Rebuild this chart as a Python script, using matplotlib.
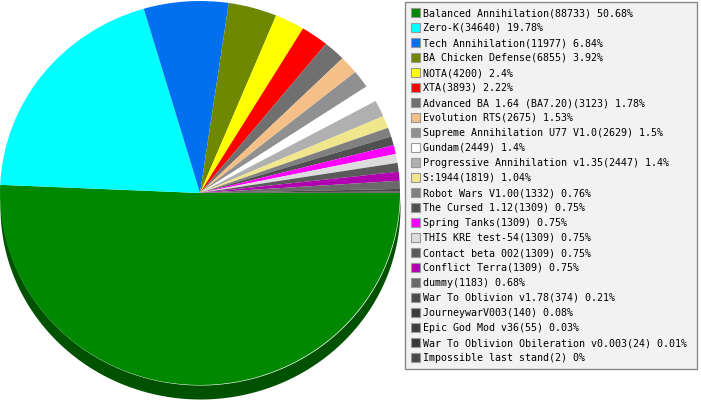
import matplotlib
matplotlib.use("Agg")
import numpy as np
import matplotlib.pyplot as plt
from matplotlib.patches import Patch

names = ["Balanced Annihilation", "Zero-K", "Tech Annihilation", "BA Chicken Defense",
         "NOTA", "XTA", "Advanced BA 1.64 (BA7.20)", "Evolution RTS",
         "Supreme Annihilation U77 V1.0", "Gundam", "Progressive Annihilation v1.35",
         "S:1944", "Robot Wars V1.00", "The Cursed 1.12", "Spring Tanks",
         "THIS KRE test-54", "Contact beta 002", "Conflict Terra", "dummy",
         "War To Oblivion v1.78", "JourneywarV003", "Epic God Mod v36",
         "War To Oblivion Obileration v0.003", "Impossible last stand"]
counts = [88733, 34640, 11977, 6855, 4200, 3893, 3123, 2675, 2629, 2449, 2447,
          1819, 1332, 1309, 1309, 1309, 1309, 1309, 1183, 374, 140, 55, 24, 2]
percents = ["50.68", "19.78", "6.84", "3.92", "2.4", "2.22", "1.78", "1.53", "1.5",
            "1.4", "1.4", "1.04", "0.76", "0.75", "0.75", "0.75", "0.75", "0.75",
            "0.68", "0.21", "0.08", "0.03", "0.01", "0"]
colors = ["#008800", "#00ffff", "#0070f0", "#6e8800", "#ffff00", "#ff0000",
          "#707070", "#f4c088", "#909090", "#ffffff", "#b0b0b0", "#f0e68c",
          "#808080", "#505050", "#ff00ff", "#dcdcdc", "#5a5a5a", "#b000b0",
          "#6a6a6a", "#4a4a4a", "#3c3c3c", "#404040", "#383838", "#484848"]

W, H = 701, 400
CX, CY, RX, RY, DEPTH = 200, 193, 200, 192, 14   # pixel geometry of the 3D pie

fig = plt.figure(figsize=(W / 100, H / 100), dpi=100)
ax = fig.add_axes([0, 0, 1, 1])

# side band of the 3D pie (front half is the first slice)
t = np.linspace(np.pi, 2 * np.pi, 400)
xs = np.cos(t)
d = DEPTH / RY
ax.fill_between(xs, np.sin(t) - d, np.sin(t), color="#005200", linewidth=0, zorder=0)

ax.pie(counts, colors=colors, startangle=0, counterclock=False,
       center=(0, 0), radius=1,
       wedgeprops=dict(linewidth=0, antialiased=True, zorder=1), frame=False)
ax.set_aspect("auto")
ax.set_xlim(-CX / RX, (W - CX) / RX)
ax.set_ylim((CY - H) / RY, CY / RY)
ax.axis("off")

labels = [f"{n}({c}) {p}%" for n, c, p in zip(names, counts, percents)]
handles = [Patch(facecolor=c, edgecolor="#999999", linewidth=0.8) for c in colors]
x0, y0, x1, y1 = 405, 2, 697, 369
leg = fig.legend(handles, labels, loc="upper left",
                 bbox_to_anchor=(x0 / W, 1 - y1 / H, (x1 - x0) / W, (y1 - y0) / H),
                 bbox_transform=fig.transFigure, mode="expand",
                 prop=dict(family="DejaVu Sans Mono", size=7.2),
                 frameon=True, fancybox=False, shadow=False,
                 borderpad=0.6, labelspacing=0.5, handlelength=0.9,
                 handleheight=0.9, handletextpad=0.3, borderaxespad=0)
frame = leg.get_frame()
frame.set_facecolor("#f2f2f2")
frame.set_edgecolor("#888888")
frame.set_linewidth(1.0)
frame.set_alpha(1)

fig.savefig("out.png", dpi=100)
